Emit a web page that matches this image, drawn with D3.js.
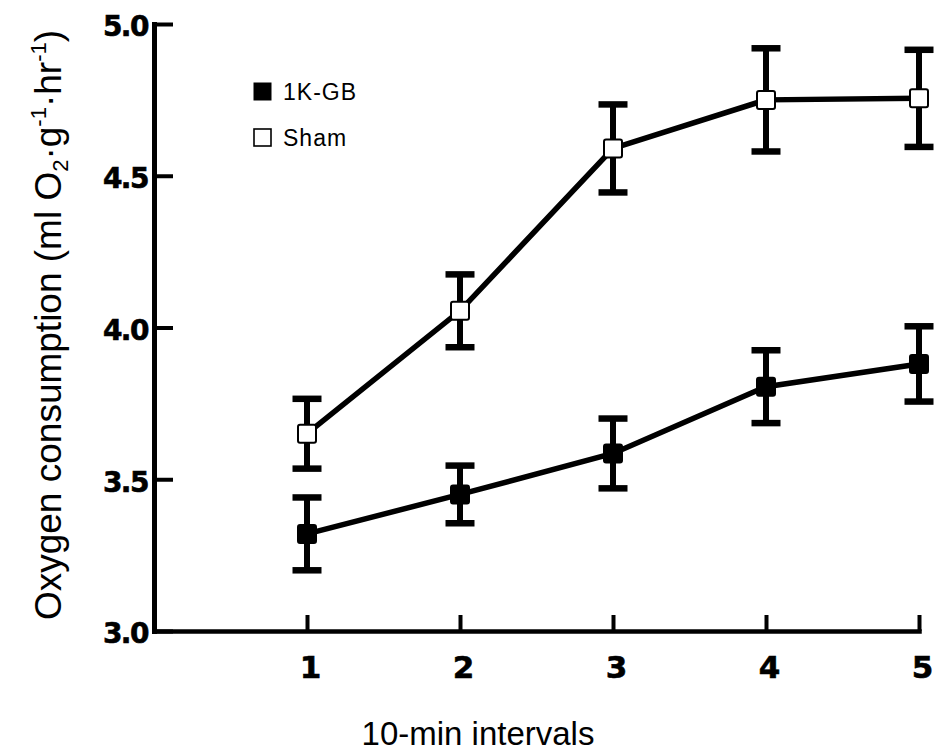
<!DOCTYPE html>
<html>
<head>
<meta charset="utf-8">
<script src="https://cdn.jsdelivr.net/npm/d3@7"></script>
<style>
 body{margin:0;background:#fff}
 svg{display:block}
</style>
</head>
<body>
<svg></svg>
<script>
// values
const intervals = [1, 2, 3, 4, 5]
const gbMean = [3.32, 3.45, 3.585, 3.805, 3.88]
const gbErr = [0.12, 0.095, 0.115, 0.12, 0.124]
const shamMean = [3.65, 4.055, 4.59, 4.75, 4.755]
const shamErr = [0.115, 0.12, 0.145, 0.17, 0.16]
const yTicks = [3.0, 3.5, 4.0, 4.5, 5.0]
const legendLabels = ["1K-GB", "Sham"]

const width = 934, height = 753

const svg = d3.select("svg").attr("width", width).attr("height", height)

const x = d3.scaleLinear().domain([0, 5]).range([154, 919])
const y = d3.scaleLinear().domain([3, 5]).range([631, 24])

// axes
const yAxis = d3.axisLeft(y)
     .tickValues(yTicks)
     .tickFormat(d3.format(".1f"))
     .tickSize(-19)
     .tickSizeOuter(0)
     .tickPadding(6)

const gy = svg.append("g")
     .attr("transform", `translate(${x(0)},0)`)
     .call(yAxis)
gy.select(".domain").attr("stroke-width", 5).attr("stroke-linecap", "square")
gy.selectAll(".tick line").attr("stroke-width", 4)
gy.selectAll(".tick text")
     .attr("font-family", "DejaVu Sans")
     .attr("font-weight", "bold")
     .attr("font-size", 28)
     .attr("letter-spacing", -1.5)
     .attr("stroke", "#000")
     .attr("stroke-width", 0.6)
     .attr("dy", "0.42em")

const xAxis = d3.axisBottom(x)
     .tickValues(intervals)
     .tickFormat(d3.format("d"))
     .tickSize(-16)
     .tickSizeOuter(0)
     .tickPadding(25)

const gx = svg.append("g")
     .attr("transform", `translate(0,${y(3)})`)
     .call(xAxis)
gx.select(".domain").attr("stroke-width", 4.5).attr("stroke-linecap", "square")
gx.selectAll(".tick line").attr("stroke-width", 4)
gx.selectAll(".tick text")
     .attr("font-family", "DejaVu Sans")
     .attr("font-weight", "bold")
     .attr("font-size", 31)
     .attr("stroke", "#000")
     .attr("stroke-width", 0.6)
     .attr("dx", 3)

// series
const series = [
     {name: "gb", mean: gbMean, err: gbErr, fill: "#000"},
     {name: "sham", mean: shamMean, err: shamErr, fill: "#fff"}
]

const line = d3.line()
     .x(d => x(d.x))
     .y(d => y(d.m))

series.forEach(s => {
     const pts = intervals.map((v, i) => ({x: v, m: s.mean[i], e: s.err[i]}))

     svg.append("path")
          .datum(pts)
          .attr("d", line)
          .attr("fill", "none")
          .attr("stroke", "#000")
          .attr("stroke-width", 5.5)

     const eb = svg.append("g").selectAll("g")
          .data(pts)
          .enter().append("g")
     eb.append("line")
          .attr("x1", d => x(d.x)).attr("x2", d => x(d.x))
          .attr("y1", d => y(d.m + d.e)).attr("y2", d => y(d.m - d.e))
          .attr("stroke", "#000").attr("stroke-width", 6)
     eb.append("line")
          .attr("x1", d => x(d.x) - 14.5).attr("x2", d => x(d.x) + 14.5)
          .attr("y1", d => y(d.m + d.e)).attr("y2", d => y(d.m + d.e))
          .attr("stroke", "#000").attr("stroke-width", 6.5)
     eb.append("line")
          .attr("x1", d => x(d.x) - 14.5).attr("x2", d => x(d.x) + 14.5)
          .attr("y1", d => y(d.m - d.e)).attr("y2", d => y(d.m - d.e))
          .attr("stroke", "#000").attr("stroke-width", 6.5)

     svg.append("g").selectAll("rect")
          .data(pts)
          .enter().append("rect")
               .attr("x", d => x(d.x) - 9)
               .attr("y", d => y(d.m) - 9)
               .attr("width", 18)
               .attr("height", 18)
               .attr("rx", 2)
               .attr("fill", s.fill)
               .attr("stroke", "#000")
               .attr("stroke-width", 2)
})

// legend
const legend = svg.append("g").attr("transform", "translate(254,83)")
legendLabels.forEach((lab, i) => {
     const g = legend.append("g").attr("transform", `translate(0,${i * 46})`)
     g.append("rect")
          .attr("x", 0).attr("y", 0)
          .attr("width", 17).attr("height", 17)
          .attr("fill", i === 0 ? "#000" : "#fff")
          .attr("stroke", "#000")
          .attr("stroke-width", i === 0 ? 1 : 1.6)
     g.append("text")
          .attr("x", 29).attr("y", 17)
          .attr("font-family", "Liberation Sans")
          .attr("font-size", 23)
          .attr("letter-spacing", 1)
          .text(lab)
})

// axis titles
svg.append("text")
     .attr("x", 478).attr("y", 745)
     .attr("text-anchor", "middle")
     .attr("font-family", "Liberation Sans")
     .attr("font-size", 33)
     .text("10-min intervals")

const yl = svg.append("text")
     .attr("transform", "translate(61,325) rotate(-90)")
     .attr("text-anchor", "middle")
     .attr("font-family", "Liberation Sans")
     .attr("font-size", 37)
yl.append("tspan").text("Oxygen consumption (ml O")
yl.append("tspan").attr("font-size", 22).attr("dy", 7).text("2")
yl.append("tspan").attr("dy", -7).text("·g")
yl.append("tspan").attr("font-size", 22).attr("dy", -15).text("-1")
yl.append("tspan").attr("dy", 15).text("·hr")
yl.append("tspan").attr("font-size", 22).attr("dy", -15).text("-1")
yl.append("tspan").attr("dy", 15).text(")")
</script>
</body>
</html>
